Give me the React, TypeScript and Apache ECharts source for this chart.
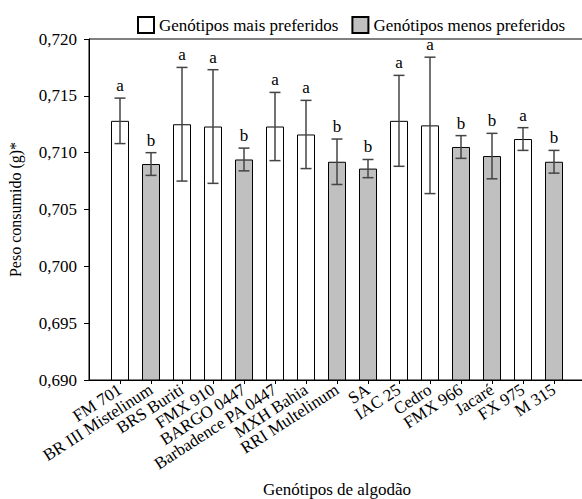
import React, { useEffect, useRef } from "react";
import * as echarts from "echarts";

const categories = [
  "FM 701", "BR III Mistelinum", "BRS Buriti", "FMX 910", "BARGO 0447",
  "Barbadence PA 0447", "MXH Bahia", "RRI Multelinum", "SA", "IAC 25",
  "Cedro", "FMX 966", "Jacaré", "FX 975", "M 315",
];
const groups = ["mais", "menos", "mais", "mais", "menos", "mais", "mais", "menos", "menos", "mais", "mais", "menos", "menos", "mais", "menos"];
const means = [0.7128, 0.7090, 0.7125, 0.7123, 0.7094, 0.7123, 0.7116, 0.7092, 0.7086, 0.7128, 0.7124, 0.7105, 0.7097, 0.7112, 0.7092];
const errors = [0.0020, 0.0010, 0.0050, 0.0050, 0.0010, 0.0030, 0.0030, 0.0020, 0.0008, 0.0040, 0.0060, 0.0010, 0.0020, 0.0010, 0.0010];
const letters = ["a", "b", "a", "a", "b", "a", "a", "b", "b", "a", "a", "b", "b", "a", "b"];
const seriesNames = ["Genótipos mais preferidos", "Genótipos menos preferidos"];
const yTicks = { min: 0.69, max: 0.72, interval: 0.005 };

const FONT = "Liberation Serif";

export default function App() {
  const ref = useRef<HTMLDivElement>(null);
  useEffect(() => {
    if (!ref.current) return;
    const chart = echarts.init(ref.current, undefined, { renderer: "svg" });
    const axisCats = ["", ...categories, ""];
    const maisData = [null, ...means.map((v, i) => (groups[i] === "mais" ? v : null)), null];
    const menosData = [null, ...means.map((v, i) => (groups[i] === "menos" ? v : null)), null];
    const errData = means.map((m, i) => [i + 1, m - errors[i], m + errors[i]]);

    chart.setOption({
      animation: false,
      textStyle: { fontFamily: FONT },
      legend: {
        left: 132,
        top: 11,
        icon: "rect",
        itemWidth: 16,
        itemHeight: 16,
        itemGap: 13,
        textStyle: { fontFamily: FONT, fontSize: 17, color: "#000" },
        data: seriesNames,
      },
      grid: {
        left: 89,
        top: 39,
        right: -3,
        bottom: 119,
        outerBoundsMode: "none",
        containLabel: false,
        show: true,
        borderColor: "#000",
        borderWidth: 1,
        backgroundColor: "transparent",
      },
      xAxis: {
        type: "category",
        data: axisCats,
        boundaryGap: false,
        name: "Genótipos de algodão",
        nameLocation: "middle",
        nameGap: 101,
        nameMoveOverlap: false,
        nameTextStyle: { fontFamily: FONT, fontSize: 17, color: "#000" },
        axisLine: { lineStyle: { color: "#000", width: 1 } },
        axisTick: {
          length: 4,
          interval: (idx: number) => idx > 0 && idx < axisCats.length - 1,
          lineStyle: { color: "#000" },
        },
        axisLabel: {
          interval: 0,
          rotate: 33,
          margin: 8,
          fontFamily: FONT,
          fontSize: 17,
          color: "#000",
        },
        splitLine: { show: false },
      },
      yAxis: {
        type: "value",
        min: yTicks.min,
        max: yTicks.max,
        interval: yTicks.interval,
        name: "Peso consumido (g)*",
        nameLocation: "middle",
        nameGap: 66,
        nameMoveOverlap: false,
        nameTextStyle: { fontFamily: FONT, fontSize: 16, color: "#000" },
        axisLine: { show: true, lineStyle: { color: "#000", width: 1 } },
        axisTick: { show: true, length: 5, lineStyle: { color: "#000" } },
        axisLabel: {
          margin: 12,
          fontFamily: FONT,
          fontSize: 17,
          color: "#000",
          formatter: (v: number) => v.toFixed(3).replace(".", ","),
        },
        splitLine: { show: false },
      },
      series: [
        {
          name: seriesNames[0],
          type: "bar",
          data: maisData,
          barWidth: 18,
          barGap: "-100%",
          itemStyle: { color: "#ffffff", borderColor: "#000", borderWidth: 1, borderRadius: 0 },
        },
        {
          name: seriesNames[1],
          type: "bar",
          data: menosData,
          barWidth: 18,
          barGap: "-100%",
          itemStyle: { color: "#c0c0c0", borderColor: "#000", borderWidth: 1, borderRadius: 0 },
        },
        {
          name: "err",
          type: "custom",
          data: errData,
          z: 10,
          renderItem: (params: any, api: any) => {
            const x = api.value(0);
            const lo = api.coord([x, api.value(1)]);
            const hi = api.coord([x, api.value(2)]);
            const half = 5.5;
            const st = { stroke: "#444", lineWidth: 1.5 };
            return {
              type: "group",
              children: [
                { type: "line", shape: { x1: hi[0], y1: hi[1], x2: lo[0], y2: lo[1] }, style: st },
                { type: "line", shape: { x1: hi[0] - half, y1: hi[1], x2: hi[0] + half, y2: hi[1] }, style: st },
                { type: "line", shape: { x1: lo[0] - half, y1: lo[1], x2: lo[0] + half, y2: lo[1] }, style: st },
                {
                  type: "text",
                  x: hi[0],
                  y: hi[1] - 4,
                  style: {
                    text: letters[params.dataIndex],
                    fontFamily: FONT,
                    fontSize: 17,
                    fill: "#000",
                    align: "center",
                    verticalAlign: "bottom",
                  },
                },
              ],
            };
          },
        },
      ],
    });
    return () => chart.dispose();
  }, []);
  return (
    <div
      ref={ref}
      style={{ position: "fixed", left: 0, top: 0, width: 582, height: 499, background: "#fff" }}
    />
  );
}
